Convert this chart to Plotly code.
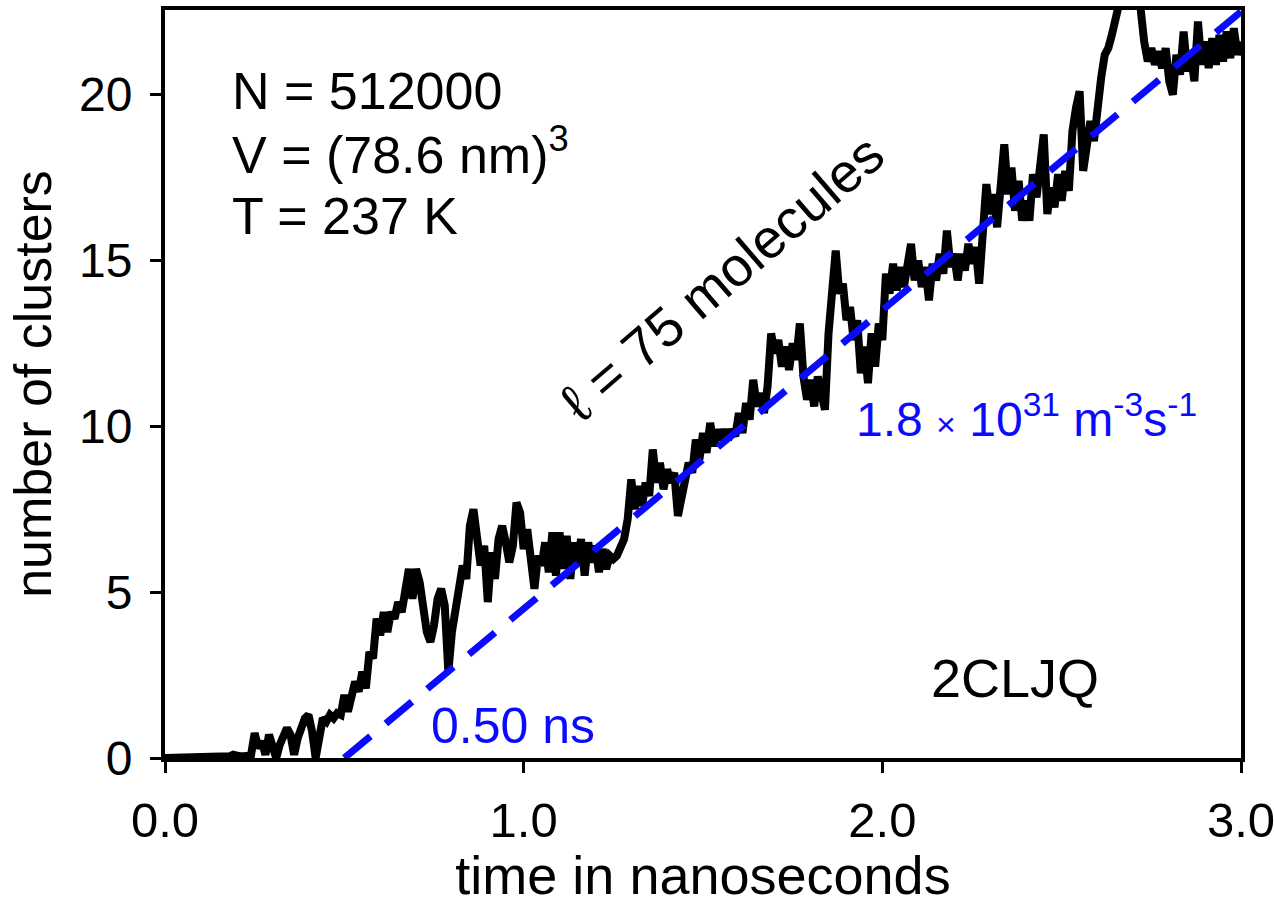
import plotly.graph_objects as go

# time in nanoseconds (sampling grid of the trace)
time_ns = [
    0.00, 0.10, 0.17, 0.18, 0.19, 0.20, 0.21, 0.22, 0.23, 0.24,
    0.25, 0.26, 0.27, 0.28, 0.29, 0.30, 0.31, 0.32, 0.33, 0.34,
    0.35, 0.36, 0.37, 0.38, 0.39, 0.40, 0.41, 0.42, 0.43, 0.44,
    0.45, 0.46, 0.47, 0.48, 0.49, 0.50, 0.51, 0.52, 0.53, 0.54,
    0.55, 0.56, 0.57, 0.58, 0.59, 0.60, 0.61, 0.62, 0.63, 0.64,
    0.65, 0.66, 0.67, 0.68, 0.69, 0.70, 0.71, 0.72, 0.73, 0.74,
    0.75, 0.76, 0.77, 0.78, 0.79, 0.80, 0.81, 0.82, 0.83, 0.84,
    0.85, 0.86, 0.87, 0.88, 0.89, 0.90, 0.91, 0.92, 0.93, 0.94,
    0.95, 0.96, 0.97, 0.98, 0.99, 1.00, 1.01, 1.02, 1.03, 1.04,
    1.05, 1.06, 1.07, 1.08, 1.09, 1.10, 1.11, 1.12, 1.13, 1.14,
    1.15, 1.16, 1.17, 1.18, 1.19, 1.20, 1.21, 1.22, 1.23, 1.24,
    1.25, 1.26, 1.27, 1.28, 1.29, 1.30, 1.31, 1.32, 1.33, 1.34,
    1.35, 1.36, 1.37, 1.38, 1.39, 1.40, 1.41, 1.42, 1.43, 1.44,
    1.45, 1.46, 1.47, 1.48, 1.49, 1.50, 1.51, 1.52, 1.53, 1.54,
    1.55, 1.56, 1.57, 1.58, 1.59, 1.60, 1.61, 1.62, 1.63, 1.64,
    1.65, 1.66, 1.67, 1.68, 1.69, 1.70, 1.71, 1.72, 1.73, 1.74,
    1.75, 1.76, 1.77, 1.78, 1.79, 1.80, 1.81, 1.82, 1.83, 1.84,
    1.85, 1.86, 1.87, 1.88, 1.89, 1.90, 1.91, 1.92, 1.93, 1.94,
    1.95, 1.96, 1.97, 1.98, 1.99, 2.00, 2.01, 2.02, 2.03, 2.04,
    2.05, 2.06, 2.07, 2.08, 2.09, 2.10, 2.11, 2.12, 2.13, 2.14,
    2.15, 2.16, 2.17, 2.18, 2.19, 2.20, 2.21, 2.22, 2.23, 2.24,
    2.25, 2.26, 2.27, 2.28, 2.29, 2.30, 2.31, 2.32, 2.33, 2.34,
    2.35, 2.36, 2.37, 2.38, 2.39, 2.40, 2.41, 2.42, 2.43, 2.44,
    2.45, 2.46, 2.47, 2.48, 2.49, 2.50, 2.51, 2.52, 2.53, 2.54,
    2.55, 2.56, 2.57, 2.58, 2.59, 2.60, 2.61, 2.62, 2.63, 2.64,
    2.65, 2.66, 2.67, 2.68, 2.69, 2.70, 2.71, 2.72, 2.73, 2.74,
    2.75, 2.76, 2.77, 2.78, 2.79, 2.80, 2.81, 2.82, 2.83, 2.84,
    2.85, 2.86, 2.87, 2.88, 2.89, 2.90, 2.91, 2.92, 2.93, 2.94,
    2.95, 2.96, 2.97, 2.98, 2.99, 3.00,
]

# number of clusters
clusters = [
    0.0, 0.0, 0.0, 0.05, 0.1, 0.05, 0.05, 0.05, 0.05, 0.1,
    0.75, 0.3, 0.5, 0.1, 0.7, 0.4, 0.0, 0.4, 0.6, 0.9,
    0.7, 0.1, 0.6, 1.0, 1.2, 1.3, 0.8, 0.0, 0.7, 1.2,
    1.1, 1.3, 1.2, 1.35, 1.3, 1.9, 1.4, 1.8, 2.3, 2.0,
    2.6, 2.1, 3.2, 3.0, 4.2, 3.7, 4.4, 3.8, 4.4, 4.2,
    4.7, 4.4, 5.2, 5.7, 4.8, 5.7, 5.3, 4.6, 3.8, 3.5,
    4.0, 4.8, 5.1, 4.6, 2.6, 3.8, 4.5, 5.2, 5.8, 5.4,
    7.0, 7.5, 6.6, 5.8, 6.4, 4.7, 6.2, 5.4, 6.6, 7.0,
    6.5, 5.9, 6.4, 7.7, 7.4, 6.3, 6.9, 5.8, 5.1, 6.1,
    5.8, 6.5, 5.6, 6.8, 5.5, 6.8, 5.7, 6.7, 5.4, 6.5,
    5.8, 6.6, 5.5, 6.5, 5.9, 6.4, 5.6, 6.3, 5.7, 6.1,
    6.0, 6.1, 6.3, 6.6, 7.2, 8.4, 7.5, 8.2, 7.6, 8.3,
    7.9, 9.3, 8.3, 8.9, 8.1, 8.7, 8.3, 8.6, 7.3, 7.9,
    8.4, 8.9, 8.6, 9.6, 9.0, 9.8, 9.2, 10.1, 9.4, 9.9,
    9.6, 9.9, 9.6, 9.9, 9.7, 10.4, 9.8, 10.7, 10.2, 11.4,
    10.6, 11.0, 10.4, 11.2, 12.8, 12.2, 12.6, 11.8, 12.4, 11.7,
    12.5, 12.0, 13.1, 11.5, 10.8, 11.4, 10.6, 11.5, 11.0, 10.5,
    12.8, 14.3, 15.3, 14.0, 14.3, 13.2, 13.6, 12.6, 13.2, 11.6,
    12.4, 11.3, 12.8, 11.8, 13.1, 12.6, 14.6, 14.0, 14.9, 14.1,
    14.8, 14.2, 14.9, 15.5, 14.4, 15.0, 14.2, 14.8, 13.8, 14.9,
    14.4, 15.2, 14.6, 15.9, 14.8, 15.2, 14.4, 15.2, 14.7, 15.5,
    14.9, 15.4, 14.3, 15.8, 17.3, 16.4, 17.0, 16.0, 17.2, 18.5,
    17.0, 17.8, 16.5, 17.4, 16.2, 16.8, 16.2, 17.6, 16.9, 18.2,
    18.8, 16.4, 17.2, 16.6, 17.6, 16.8, 17.7, 17.1, 18.9, 19.6,
    20.1, 17.7, 18.6, 19.2, 18.6, 19.9, 20.5, 21.2, 21.4, 21.8,
    22.3, 22.8, 23.2, 23.4, 23.3, 23.1, 22.9, 22.6, 21.6, 21.0,
    21.4, 20.9, 21.3, 20.8, 21.4, 20.4, 20.0, 21.2, 20.6, 21.9,
    20.7, 21.2, 20.4, 22.2, 20.9, 21.6, 20.8, 21.7, 20.9, 21.8,
    21.0, 21.9, 21.1, 22.0, 21.2, 21.6,
]

# linear fit: onset 0.50 ns, reaches 22.5 clusters at 3.0 ns
fit_time = [0.50, 3.00]
fit_clusters = [0.0, 22.5]

x_tickvals = [0, 1, 2, 3]
x_ticktext = ["0.0", "1.0", "2.0", "3.0"]
y_tickvals = [0, 5, 10, 15, 20]

FONT = "Liberation Sans, Arial, Helvetica, sans-serif"
BLUE = "#0a0aff"

fig = go.Figure()
fig.add_trace(go.Scatter(
    x=time_ns, y=clusters, mode="lines",
    line=dict(color="black", width=8),
    showlegend=False, hoverinfo="skip",
))
fig.add_trace(go.Scatter(
    x=fit_time, y=fit_clusters, mode="lines",
    line=dict(color=BLUE, width=7, dash="34px,20px"),
    showlegend=False, hoverinfo="skip",
))

annos = [
    dict(text="N = 512000", x=0.060, y=0.892, xanchor="left", yanchor="middle",
         font=dict(size=52, color="black")),
    dict(text="V = (78.6 nm)<sup>3</sup>", x=0.060, y=0.812, xanchor="left", yanchor="middle",
         font=dict(size=52, color="black")),
    dict(text="T = 237 K", x=0.060, y=0.724, xanchor="left", yanchor="middle",
         font=dict(size=52, color="black")),
    dict(text="\u2113 = 75 molecules", x=0.5177, y=0.6417, xanchor="center", yanchor="middle",
         textangle=-40.7, font=dict(size=55, color="black")),
    dict(text="1.8 <span style='font-size:34px'>\u00d7</span> 10<sup>31</sup> m<sup>-3</sup>s<sup>-1</sup>",
         x=0.801, y=0.457, xanchor="center", yanchor="middle",
         font=dict(size=48, color=BLUE)),
    dict(text="0.50 ns", x=0.3234, y=0.043, xanchor="center", yanchor="middle",
         font=dict(size=50, color=BLUE)),
    dict(text="2CLJQ", x=0.790, y=0.107, xanchor="center", yanchor="middle",
         font=dict(size=54, color="black")),
]
for a in annos:
    fig.add_annotation(xref="paper", yref="paper", showarrow=False, **a)

fig.update_layout(
    width=1274, height=905,
    margin=dict(l=165, r=33, t=10, b=147),
    paper_bgcolor="white", plot_bgcolor="white",
    font=dict(family=FONT, color="black"),
)
fig.update_xaxes(
    range=[0, 3.0], tickvals=x_tickvals, ticktext=x_ticktext,
    showgrid=False, zeroline=False, automargin=False,
    ticklabeloverflow="allow",
    showline=True, linecolor="black", linewidth=4, mirror=True,
    ticks="outside", ticklen=11, tickwidth=3, tickcolor="black",
    tickfont=dict(size=49), ticklabelstandoff=5,
    title=dict(text="time in nanoseconds", font=dict(size=54), standoff=25),
)
fig.update_yaxes(
    range=[0, 22.55], tickvals=y_tickvals,
    showgrid=False, zeroline=False, automargin=False,
    showline=True, linecolor="black", linewidth=4, mirror=True,
    ticks="outside", ticklen=11, tickwidth=3, tickcolor="black",
    tickfont=dict(size=48), ticklabelstandoff=8,
    title=dict(text="number of clusters", font=dict(size=52), standoff=12),
)

fig.write_html("out.html")
